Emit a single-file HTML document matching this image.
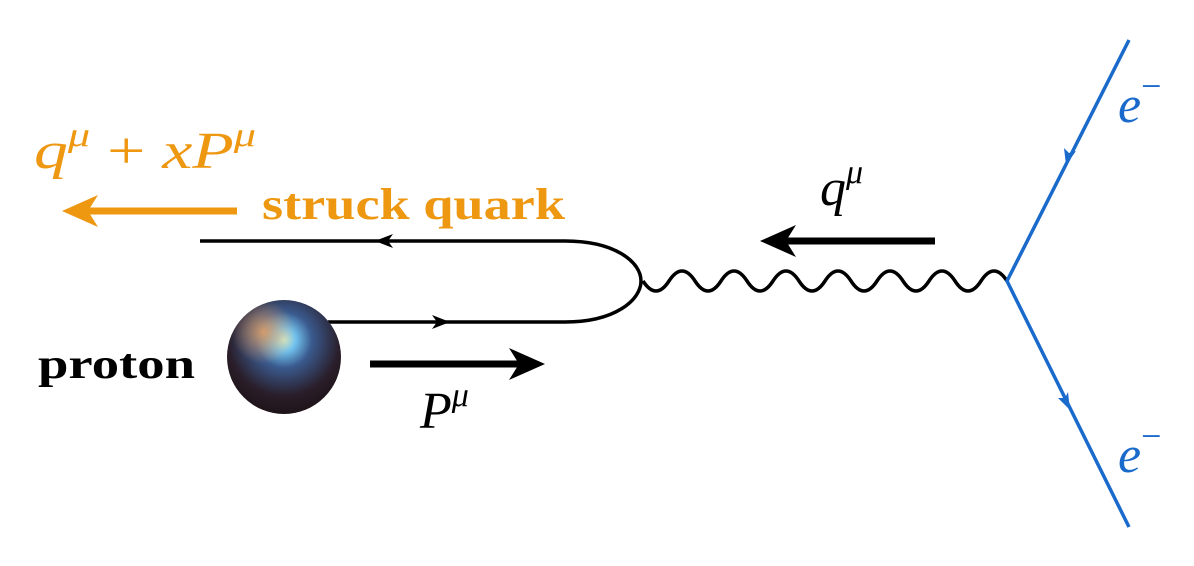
<!DOCTYPE html>
<html><head><meta charset="utf-8"><style>
html,body{margin:0;padding:0;background:#fff}
svg{display:block}
.m{font-family:"Liberation Serif",serif;font-style:italic}
.b{font-family:"Liberation Serif",serif;font-weight:bold}
</style></head><body>
<svg width="1194" height="566" viewBox="0 0 1194 566" xmlns="http://www.w3.org/2000/svg">
<defs>
<radialGradient id="g1" cx="0.5" cy="0.35" r="0.7">
<stop offset="0" stop-color="#c8f4dc"/>
<stop offset="0.15" stop-color="#70c0ec"/>
<stop offset="0.35" stop-color="#3a5a8e"/>
<stop offset="0.7" stop-color="#2a1e2a"/>
<stop offset="1" stop-color="#1a1012"/>
</radialGradient>
<radialGradient id="g2" cx="0.32" cy="0.28" r="0.28">
<stop offset="0" stop-color="#e8a060" stop-opacity="0.85"/>
<stop offset="1" stop-color="#e8a060" stop-opacity="0"/>
</radialGradient>
</defs>
<path d="M200,241 L565,241 C615,241 641,262 641,281 C641,300 615,322 565,322 L328,322" fill="none" stroke="#000" stroke-width="3.5"/>
<path d="M375,241 L393,234 L388,241 L393,248 Z" fill="#000"/>
<path d="M450,322 L432,315 L437,322 L432,329 Z" fill="#000"/>
<path d="M643,281 q13,20 26,0 t26,0 t26,0 t26,0 t26,0 t26,0 t26,0 t26,0 t26,0 t26,0 t26,0 t26,0 t26,0 t26,0" fill="none" stroke="#000" stroke-width="3.5"/>
<path d="M1129,40 L1007,281 L1129,527" fill="none" stroke="#1a6acb" stroke-width="3.5"/>
<path d="M1066,165 L1064,148 L1069,153 L1076,151 Z" fill="#1a6acb"/>
<path d="M1070,410 L1058,398 L1065,398 L1068,392 Z" fill="#1a6acb"/>
<circle cx="284" cy="357" r="57" fill="url(#g1)"/>
<circle cx="284" cy="357" r="57" fill="url(#g2)"/>
<line x1="237" y1="211" x2="85" y2="211" stroke="#ee9711" stroke-width="7"/>
<path d="M62,211 L98,195 L88,211 L98,227 Z" fill="#ee9711"/>
<line x1="935" y1="241" x2="785" y2="241" stroke="#000" stroke-width="7"/>
<path d="M760,241 L796,225 L786,241 L796,257 Z" fill="#000"/>
<line x1="370" y1="364" x2="520" y2="364" stroke="#000" stroke-width="7"/>
<path d="M545,364 L509,348 L519,364 L509,380 Z" fill="#000"/>
<text x="34" y="168" class="m" font-size="52" fill="#ee9711" textLength="222" lengthAdjust="spacingAndGlyphs">q<tspan dy="-22" font-size="34">μ</tspan><tspan dy="22" font-style="normal"> + </tspan>xP<tspan dy="-22" font-size="34">μ</tspan></text>
<text x="262" y="219" class="b" font-size="44" fill="#ee9711" textLength="303" lengthAdjust="spacingAndGlyphs">struck quark</text>
<text x="38" y="378" class="b" font-size="42" fill="#000" textLength="157" lengthAdjust="spacingAndGlyphs">proton</text>
<text x="420" y="428" class="m" font-size="52" fill="#000">P<tspan dy="-22" font-size="34">μ</tspan></text>
<text x="820" y="205" class="m" font-size="52" fill="#000">q<tspan dy="-22" font-size="34">μ</tspan></text>
<text x="1118" y="122" class="m" font-size="52" fill="#1a6acb">e<tspan dy="-24" font-size="36" font-style="normal">−</tspan></text>
<text x="1118" y="472" class="m" font-size="52" fill="#1a6acb">e<tspan dy="-24" font-size="36" font-style="normal">−</tspan></text>
</svg>
</body></html>
